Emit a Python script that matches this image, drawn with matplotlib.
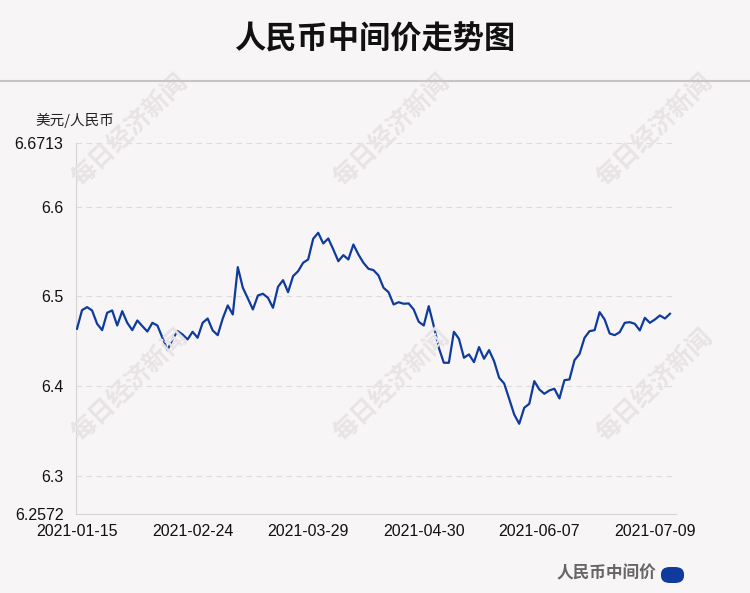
import matplotlib.pyplot as plt
from matplotlib.patches import FancyBboxPatch

plt.rcParams['font.family'] = ['Liberation Sans', 'Noto Sans CJK SC', 'DejaVu Sans']

# central parity, USD/CNY, one value per trading day
values = [
    6.4640, 6.4847, 6.4881, 6.4844, 6.4695, 6.4624, 6.4818, 6.4844, 6.4676, 6.4836,
    6.4706, 6.4624, 6.4732, 6.4669, 6.4609, 6.4706, 6.4676, 6.4539, 6.4401, 6.4520,
    6.4615, 6.4576, 6.4520, 6.4606, 6.4539, 6.4706, 6.4754, 6.4621, 6.4568, 6.4754,
    6.4900, 6.4799, 6.5327, 6.5097, 6.4978, 6.4855, 6.5011, 6.5030, 6.4985, 6.4874,
    6.5108, 6.5182, 6.5048, 6.5227, 6.5282, 6.5376, 6.5413, 6.5644, 6.5711, 6.5592,
    6.5647, 6.5525, 6.5394, 6.5461, 6.5413, 6.5580, 6.5469, 6.5376, 6.5309, 6.5294,
    6.5234, 6.5097, 6.5048, 6.4911, 6.4936, 6.4919, 6.4922, 6.4855, 6.4718, 6.4676,
    6.4892, 6.4669, 6.4427, 6.4260, 6.4260, 6.4606, 6.4528, 6.4316, 6.4353, 6.4267,
    6.4435, 6.4305, 6.4401, 6.4278, 6.4093, 6.4029, 6.3858, 6.3683, 6.3579, 6.3758,
    6.3802, 6.4055, 6.3962, 6.3914, 6.3951, 6.3970, 6.3862, 6.4066, 6.4074, 6.4289,
    6.4358, 6.4539, 6.4613, 6.4624, 6.4825, 6.4743, 6.4587, 6.4568, 6.4602, 6.4706,
    6.4713, 6.4695, 6.4621, 6.4762, 6.4706, 6.4743, 6.4788, 6.4754, 6.4807,
]
tick_labels = ['2021-01-15', '2021-02-24', '2021-03-29', '2021-04-30', '2021-06-07', '2021-07-09']
tick_step = 23
y_ticks = [6.2572, 6.3, 6.4, 6.5, 6.6, 6.6713]
y_tick_labels = ['6.2572', '6.3', '6.4', '6.5', '6.6', '6.6713']

BG = '#f8f5f6'
LINE = '#0f3b9c'
W, H = 750, 593

fig = plt.figure(figsize=(7.5, 5.93), dpi=100, facecolor=BG)

# title band
fig.text(375 / W, 1 - 39 / H, '人民币中间价走势图', ha='center', va='center',
         fontsize=22.5, fontweight='bold', color='#111111',
         family=['Noto Sans CJK SC', 'DejaVu Sans'])
fig.add_artist(plt.Line2D([0, 1], [1 - 81 / H, 1 - 81 / H], color='#c8c4c5', lw=1.5))

# watermarks
for wx in (130, 392, 655):
    for wy in (130, 385):
        fig.text(wx / W, 1 - wy / H, '每日经济新闻', ha='center', va='center', rotation=44,
                 fontsize=18, fontweight='bold', color='#e8e3e5',
                 family=['Noto Sans CJK SC', 'DejaVu Sans'], zorder=0)

ax = fig.add_axes([76 / W, 1 - 514 / H, 600 / W, (514 - 143) / H])
ax.set_facecolor('none')
x = list(range(len(values)))
ax.plot(x, values, color=LINE, lw=1.6, solid_joinstyle='round', zorder=3)

ax.set_xlim(-0.2, 119.2)
ax.set_ylim(y_ticks[0], y_ticks[-1])
ax.set_yticks(y_ticks)
ax.set_yticklabels(y_tick_labels)
ax.set_xticks([i * tick_step for i in range(len(tick_labels))])
ax.set_xticklabels(tick_labels)
ax.tick_params(axis='both', length=0, labelsize=11.5, colors='#111111')
ax.tick_params(axis='y', pad=9)
ax.tick_params(axis='x', pad=7)

for v in y_ticks[1:]:
    ax.axhline(v, color='#dcdcdc', lw=0.8, ls=(0, (5, 4)), zorder=1)

for s in ('top', 'right'):
    ax.spines[s].set_visible(False)
ax.spines['left'].set_color('#d4d4d4')
ax.spines['bottom'].set_color('#d4d4d4')

fig.text(75 / W, 1 - 120 / H, '美元/人民币', ha='center', va='center', fontsize=10.5,
         color='#222222', family=['Noto Sans CJK SC', 'DejaVu Sans'])

# legend
fig.text(656 / W, 1 - 573 / H, '人民币中间价', ha='right', va='center', fontsize=12,
         fontweight='bold', color='#666666', family=['Noto Sans CJK SC', 'DejaVu Sans'])
fig.add_artist(FancyBboxPatch((661 / W, 1 - 583 / H), 23 / W, 16 / H,
                              boxstyle='round,pad=0,rounding_size=0.012',
                              transform=fig.transFigure, fc=LINE, ec='none'))

fig.savefig('out.png', dpi=100, facecolor=BG)
